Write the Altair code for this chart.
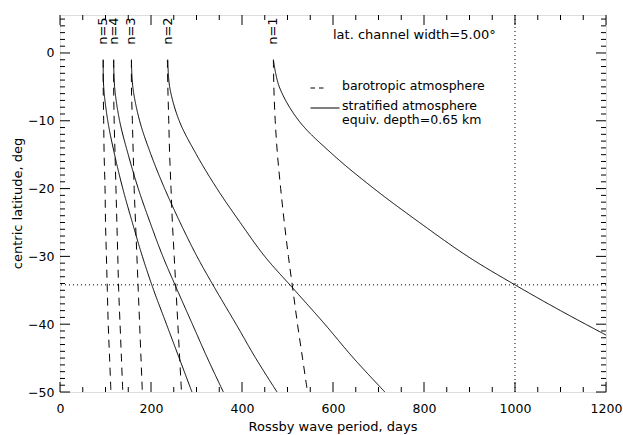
import altair as alt
import pandas as pd

# ---- data: Rossby wave periods (days) vs centric latitude (deg) ----
lat = [-1, -5, -10, -15, -20, -25, -30, -35, -40, -45, -50]

# stratified atmosphere (equivalent depth 0.65 km), modes n=1..5
strat_n1_lat = [-1, -5, -10, -15, -20, -25, -30, -34.2, -38, -41.6]
strat_n1 = [469, 482, 525, 600, 690, 790, 896, 1000, 1100, 1200]
strat_n2 = [237, 241, 262, 300, 345, 396, 450, 516, 582, 645, 714]
strat_n3 = [157, 160, 175, 200, 230, 264, 301, 343, 387, 430, 477]
strat_n4 = [118, 120, 131, 150, 172, 198, 226, 258, 291, 324, 359]
strat_n5 = [95, 96, 105, 120, 138, 159, 181, 206, 234, 262, 290]

# barotropic atmosphere, modes n=1..5
baro_n1 = [469, 470, 473, 478, 485, 493, 502, 512, 522, 533, 544]
baro_n2 = [236, 237, 239, 241, 244, 247, 251, 255, 259, 263, 267]
baro_n3 = [157, 157, 159, 161, 163, 166, 169, 172, 175, 178, 181]
baro_n4 = [118, 118, 119, 121, 123, 125, 127, 129, 132, 135, 138]
baro_n5 = [95, 95, 96, 97, 99, 100, 102, 104, 106, 109, 112]

mode_labels = ["n=1", "n=2", "n=3", "n=4", "n=5"]
label_lat = 1.2

obs_period = 1000
obs_lat = -34.2

x_major = [0, 200, 400, 600, 800, 1000, 1200]
y_major = [-50, -40, -30, -20, -10, 0]

# ---- layout ----
W, H = 546, 377
FONT = "DejaVu Sans"

xs = alt.Scale(domain=[0, 1200], nice=False, zero=False)
ys = alt.Scale(domain=[-50, 5.6], nice=False, zero=False)

rows = []
curves = [
    ("s1", "strat", strat_n1_lat, strat_n1),
    ("s2", "strat", lat, strat_n2),
    ("s3", "strat", lat, strat_n3),
    ("s4", "strat", lat, strat_n4),
    ("s5", "strat", lat, strat_n5),
    ("b1", "baro", lat, baro_n1),
    ("b2", "baro", lat, baro_n2),
    ("b3", "baro", lat, baro_n3),
    ("b4", "baro", lat, baro_n4),
    ("b5", "baro", lat, baro_n5),
]
for cid, kind, lats, periods in curves:
    for i, (la, p) in enumerate(zip(lats, periods)):
        rows.append({"curve": cid, "kind": kind, "lat": la, "period": p, "idx": i})
df = pd.DataFrame(rows)

lines = alt.Chart(df).mark_line(
    color="black", strokeWidth=1, interpolate="catmull-rom", clip=True
).encode(
    x=alt.X("period:Q", scale=xs,
            axis=alt.Axis(values=x_major, format="d", ticks=False, domain=False,
                          grid=False, labelFont=FONT, labelFontSize=12.5,
                          labelColor="black", labelPadding=10, title=None,
                          labelFlush=False)),
    y=alt.Y("lat:Q", scale=ys,
            axis=alt.Axis(values=y_major, format="d", ticks=False, domain=False,
                          grid=False, labelFont=FONT, labelFontSize=12.5,
                          labelColor="black", labelPadding=6, title=None,
                          labelFlush=False)),
    detail="curve:N",
    order="idx:Q",
    strokeDash=alt.StrokeDash("kind:N",
                              scale=alt.Scale(domain=["baro", "strat"],
                                              range=[[8, 6], [1, 0]]),
                              legend=None),
)

# dotted reference lines
vline = alt.Chart(pd.DataFrame({"v": [obs_period]})).mark_rule(
    color="black", strokeWidth=1, strokeDash=[1, 3]
).encode(x=alt.X("v:Q", scale=xs))
hline = alt.Chart(pd.DataFrame({"v": [obs_lat]})).mark_rule(
    color="black", strokeWidth=1, strokeDash=[1, 3]
).encode(y=alt.Y("v:Q", scale=ys))

# mode labels above the curve tops
lab_df = pd.DataFrame({
    "t": mode_labels,
    "p": [strat_n1[0], strat_n2[0], strat_n3[0], strat_n4[0], strat_n5[0]],
    "la": [label_lat] * 5,
})
mode_text = alt.Chart(lab_df).mark_text(
    angle=270, align="left", baseline="middle", font=FONT, fontSize=13, color="black"
).encode(x=alt.X("p:Q", scale=xs), y=alt.Y("la:Q", scale=ys), text="t:N")


# inward-pointing ticks on all four sides
def xticks(vals, length, top):
    y0 = 0 if top else H
    y1 = length if top else H - length
    return alt.Chart(pd.DataFrame({"v": vals})).mark_rule(
        color="black", strokeWidth=1
    ).encode(x=alt.X("v:Q", scale=xs), y=alt.value(y0), y2=alt.value(y1))


def yticks(vals, length, right):
    x0 = W if right else 0
    x1 = W - length if right else length
    return alt.Chart(pd.DataFrame({"v": vals})).mark_rule(
        color="black", strokeWidth=1
    ).encode(y=alt.Y("v:Q", scale=ys), x=alt.value(x0), x2=alt.value(x1))


x_minor = [v for v in range(0, 1201, 50) if v not in x_major]
y_minor = [v for v in range(-50, 6) if v not in y_major]

ticks = [
    xticks(x_major, 10, False), xticks(x_minor, 5, False),
    xticks(x_major, 10, True), xticks(x_minor, 5, True),
    yticks(y_major, 10, False), yticks(y_minor, 5, False),
    yticks(y_major, 10, True), yticks(y_minor, 5, True),
]


def note(text, x, y, angle=0, align="left", size=13):
    return alt.Chart(pd.DataFrame({"t": [text]})).mark_text(
        align=align, baseline="middle", font=FONT, fontSize=size,
        color="black", angle=angle
    ).encode(x=alt.value(x), y=alt.value(y), text="t:N")


one = pd.DataFrame({"k": [0]})
legend_dash = alt.Chart(one).mark_rule(color="black", strokeWidth=1, strokeDash=[4.5, 4]).encode(
    x=alt.value(250.5), x2=alt.value(263.5), y=alt.value(73))
legend_solid = alt.Chart(one).mark_rule(color="black", strokeWidth=1).encode(
    x=alt.value(250.5), x2=alt.value(279.5), y=alt.value(93))

notes = [
    note("lat. channel width=5.00°", 273, 20),
    note("barotropic atmosphere", 282, 71, size=12.5),
    note("stratified atmosphere", 282, 90.5, size=12.5),
    note("equiv. depth=0.65 km", 282, 104.5, size=12.5),
    note("Rossby wave period, days", W / 2, 412, align="center"),
    note("centric latitude, deg", -42, H / 2, angle=270, align="center"),
]

chart = alt.layer(
    lines, vline, hline, mode_text, legend_dash, legend_solid, *ticks, *notes
).properties(
    width=W, height=H,
    padding={"left": 60, "top": 15, "right": 17, "bottom": 43},
    autosize=alt.AutoSizeParams(type="none"),
).configure_view(
    stroke="black", strokeWidth=1
).configure(background="white")

chart.save("out.html", embed_options={"renderer": "svg", "actions": False})
